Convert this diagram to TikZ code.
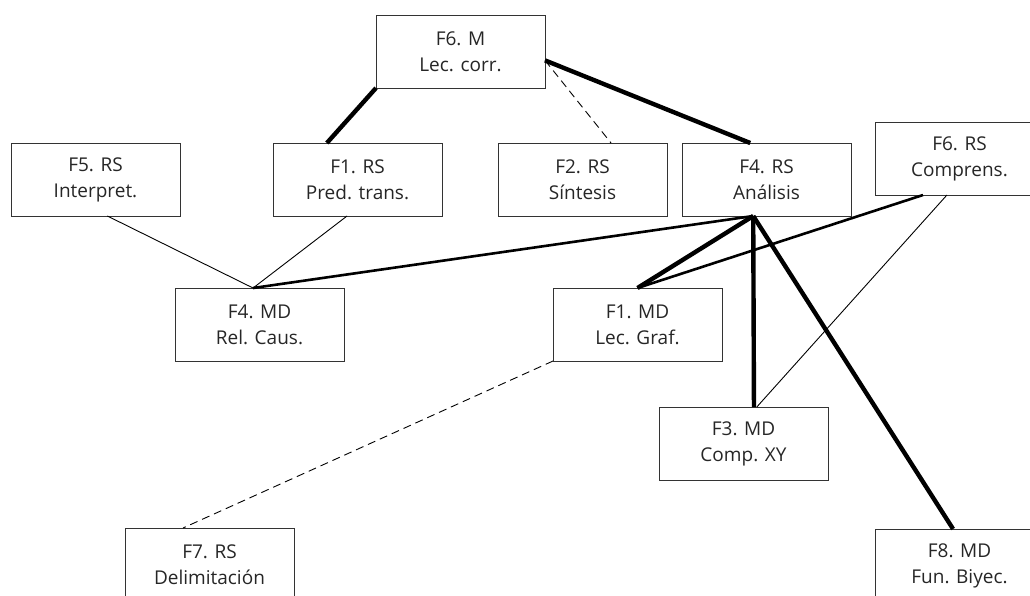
\documentclass[tikz,border=0pt]{standalone}
\usepackage{fontspec}
\setmainfont{Open Sans}
\usetikzlibrary{positioning}
\tikzset{box node/.style={rectangle, draw=black!80, line width=0.9pt, minimum width=169pt, minimum height=73pt, inner sep=0pt, outer sep=0pt, align=center, text=black!85, font=\fontsize{19}{26}\selectfont},}
\tikzset{thin link/.style={line width=0.9pt}, mid link/.style={line width=2.6pt}, wide link/.style={line width=4.4pt}, dash link/.style={line width=0.9pt, dash pattern=on 8pt off 5pt},}

\begin{document}
\begin{tikzpicture}[x=1pt,y=-1pt]
        \clip (0,0) rectangle (1030,595);
        % Nodes
        \node[box node] (f5rs) at (95.5,179.5) {F5. RS\\Interpret.};
        \node[box node] [right = 93pt of f5rs] (f1rs) {F1. RS\\Pred. trans.};
        \node[box node] [right = 56pt of f1rs] (f2rs) {F2. RS\\Síntesis};
        \node[box node] [right = 15pt of f2rs] (f4rs) {F4. RS\\Análisis};
        \node[box node] [right = 24pt of f4rs, yshift=21pt] (f6rs) {F6. RS\\Comprens.};
        \node[box node] [above right = 55pt and -66pt of f1rs] (f6m) {F6. M\\Lec. corr.};
        \node[box node] [below right = 72pt and -5pt of f5rs] (f4md) {F4. MD\\Rel. Caus.};
        \node[box node] [right = 209pt of f4md] (f1md) {F1. MD\\Lec. Graf.};
        \node[box node] [below right = 46pt and -63pt of f1md] (f3md) {F3. MD\\Comp. XY};
        \node[box node] [below = 167pt of f4md, xshift=-50pt] (f7rs) {F7. RS\\Delimitación};
        \node[box node] [below = 334pt of f6rs] (f8md) {F8. MD\\Fun. Biyec.};
        % Paths
        \path[draw]
        (f6m.south west) edge[wide link] (f1rs.130)
        (f6m.-6) edge[wide link] (f4rs.114)
        (f6m.-6) edge[dash link] (f2rs.52)
        (f5rs.-72) edge[thin link] (f4md.100)
        (f1rs.-106) edge[thin link] (f4md.100)
        (f4rs.-110) edge[mid link] (f4md.100)
        (f4rs.-110) edge[wide link] (f1md.north)
        (f4rs.-110) edge[wide link] (f3md.74)
        (f4rs.-110) edge[wide link] (f8md.100)
        (f6rs.-135) edge[mid link] (f1md.north)
        (f6rs.-109) edge[thin link] (f3md.70)
        (f1md.south west) edge[dash link] (f7rs.126);
    \end{tikzpicture}
\end{document}
